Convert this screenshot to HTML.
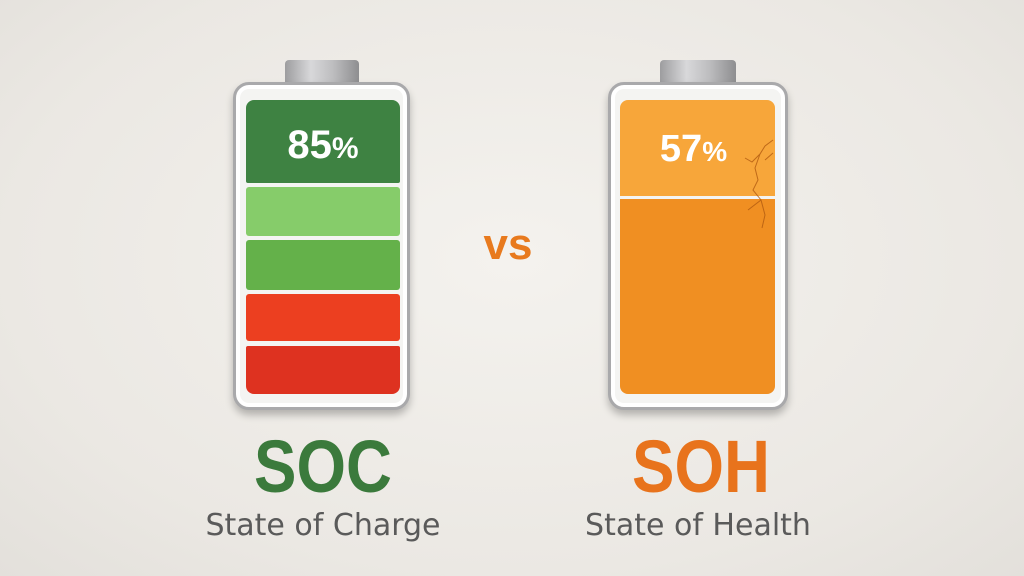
<!DOCTYPE html>
<html><head><meta charset="utf-8"><style>
html,body{margin:0;padding:0}
body{width:1024px;height:576px;overflow:hidden;position:relative;background:radial-gradient(ellipse at 50% 45%,#f4f2ee 0%,#ebe8e3 70%,#e3e0db 100%);font-family:"Liberation Sans","DejaVu Sans",sans-serif}
.a{position:absolute}
.cap{background:linear-gradient(90deg,#9d9d9f,#d8d8da 35%,#bdbdbf 65%,#8e8e90);border-radius:4px 4px 0 0}
.body{border:3px solid #a9a9ab;border-radius:16px;background:#f4f4f2;box-shadow:0 5px 8px rgba(0,0,0,.25),inset 0 0 0 4px #fff;box-sizing:border-box}
.seg{border-radius:3px}
.pct{color:#fff;font-weight:bold;text-align:center}
.big{font-weight:bold;text-align:center;font-size:74px;transform:scaleX(0.86);transform-origin:50% 50%}
.sub{color:#5a5a5a;text-align:center;font-size:30px;font-family:"DejaVu Sans","Liberation Sans",sans-serif}
</style></head><body>
<div class="a cap" style="left:285px;top:60px;width:74px;height:24px"></div>
<div class="a body" style="left:233px;top:82px;width:177px;height:328px"></div>
<div class="a seg" style="left:246px;top:100px;width:154px;height:83px;background:#3e8242;border-radius:8px 8px 2px 2px"></div>
<div class="a seg" style="left:246px;top:187px;width:154px;height:49px;background:#86cc6a"></div>
<div class="a seg" style="left:246px;top:240px;width:154px;height:50px;background:#64b14a"></div>
<div class="a seg" style="left:246px;top:294px;width:154px;height:47px;background:#ec3f20"></div>
<div class="a seg" style="left:246px;top:346px;width:154px;height:48px;background:#de3220;border-radius:2px 2px 8px 8px"></div>
<div class="a pct" style="left:246px;top:122px;width:154px;font-size:40px;line-height:46px">85<span style="font-size:30px">%</span></div>

<div class="a cap" style="left:660px;top:60px;width:76px;height:24px"></div>
<div class="a body" style="left:608px;top:82px;width:180px;height:328px"></div>
<div class="a seg" style="left:620px;top:100px;width:155px;height:96px;background:#f7a63a;border-radius:8px 8px 0 0"></div>
<div class="a seg" style="left:620px;top:199px;width:155px;height:195px;background:#f08f22;border-radius:0 0 8px 8px"></div>
<div class="a pct" style="left:620px;top:126px;width:155px;font-size:38px;line-height:46px;padding-right:8px;box-sizing:border-box">57<span style="font-size:28px">%</span></div>
<svg class="a" style="left:600px;top:50px" width="200" height="370"><path d="M173 90 L165 96 L160 104 L152 112 L145 108 M160 104 L155 118 L158 130 L153 140 L161 150 L165 165 L162 178 M161 150 L148 160 M165 110 L173 103" stroke="#b05a10" stroke-width="1" fill="none" opacity=".8"/></svg>

<div class="a" style="left:470px;top:220px;width:76px;text-align:center;font-weight:bold;font-size:44px;color:#e87a1e">vs</div>

<div class="a big" style="left:223px;top:427px;width:200px;color:#3b7a3c;line-height:80px">SOC</div>
<div class="a sub" style="left:173px;top:508px;width:300px">State of Charge</div>
<div class="a big" style="left:601px;top:427px;width:200px;color:#e8731c;line-height:80px">SOH</div>
<div class="a sub" style="left:560px;top:508px;width:276px">State of Health</div>
</body></html>
